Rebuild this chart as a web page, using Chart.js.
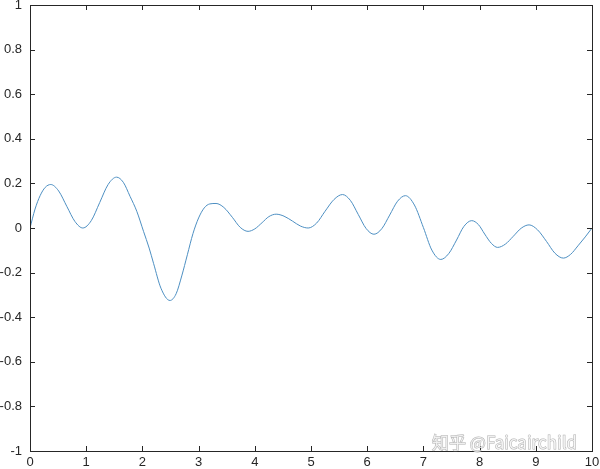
<!DOCTYPE html>
<html>
<head>
<meta charset="utf-8">
<script src="https://cdn.jsdelivr.net/npm/chart.js@4"></script>
<style>
  html, body { margin: 0; padding: 0; background: #fff; }
  #wrap { width: 600px; height: 469px; }
</style>
</head>
<body>
<div id="wrap"><canvas id="grafico"></canvas></div>
<script>
// valores (x, y)
const xs = [0, 0.09, 0.18, 0.27, 0.37,
            0.51, 0.655, 0.80, 0.94,
            1.09, 1.24, 1.39, 1.54,
            1.66, 1.78, 1.90, 2.02, 2.12, 2.20, 2.33, 2.49,
            2.60, 2.70, 2.80, 2.90, 3.00, 3.10, 3.20, 3.31,
            3.45, 3.60, 3.74, 3.88,
            4.00, 4.13, 4.25, 4.38,
            4.52, 4.67, 4.81, 4.95,
            5.10, 5.25, 5.41, 5.56,
            5.70, 5.84, 5.98, 6.12,
            6.26, 6.40, 6.54, 6.68,
            6.84, 7.00, 7.15, 7.31,
            7.45, 7.59, 7.72, 7.86,
            7.98, 8.09, 8.21, 8.32,
            8.46, 8.60, 8.74, 8.88,
            9.03, 9.19, 9.34, 9.49,
            9.62, 9.75, 9.88, 10];
const ys = [0, 0.085, 0.145, 0.182, 0.195,
            0.166, 0.097, 0.029, 0.0,
            0.033, 0.114, 0.195, 0.228,
            0.205, 0.142, 0.075, -0.015, -0.09, -0.16, -0.27, -0.325,
            -0.295, -0.215, -0.12, -0.025, 0.045, 0.09, 0.108, 0.11,
            0.092, 0.048, 0.003, -0.015,
            -0.004, 0.024, 0.051, 0.062,
            0.053, 0.031, 0.009, 0.0,
            0.022, 0.075, 0.128, 0.15,
            0.124, 0.061, -0.002, -0.028,
            -0.003, 0.058, 0.12, 0.145,
            0.103, 0.002, -0.099, -0.141,
            -0.115, -0.054, 0.007, 0.033,
            0.015, -0.027, -0.069, -0.087,
            -0.072, -0.037, -0.001, 0.014,
            -0.008, -0.06, -0.113, -0.135,
            -0.118, -0.08, -0.04, 0];

const xTicks = [0, 1, 2, 3, 4, 5, 6, 7, 8, 9, 10];
const yTicks = [-1, -0.8, -0.6, -0.4, -0.2, 0, 0.2, 0.4, 0.6, 0.8, 1];
const marca = "知乎 @Faicairchild";

const colorEje = "#262626";
const colorLinea = "#4d8fc2";

const puntos = xs.map((x, i) => ({ x: x, y: ys[i] }));

// caja y marcas hacia dentro, estilo matlab
const cajaPlugin = {
  id: "caja",
  afterDraw(chart) {
    const { ctx, chartArea: a, scales } = chart;
    ctx.save();
    ctx.strokeStyle = colorEje;
    ctx.lineWidth = 1;
    ctx.strokeRect(Math.round(a.left) + 0.5, Math.round(a.top) + 0.5,
                   Math.round(a.right - a.left), Math.round(a.bottom - a.top));
    const t = 5;
    ctx.beginPath();
    xTicks.forEach(v => {
      const px = Math.round(scales.x.getPixelForValue(v)) + 0.5;
      ctx.moveTo(px, a.bottom); ctx.lineTo(px, a.bottom - t);
      ctx.moveTo(px, a.top); ctx.lineTo(px, a.top + t);
    });
    yTicks.forEach(v => {
      const py = Math.round(scales.y.getPixelForValue(v)) + 0.5;
      ctx.moveTo(a.left, py); ctx.lineTo(a.left + t, py);
      ctx.moveTo(a.right, py); ctx.lineTo(a.right - t, py);
    });
    ctx.stroke();

    // marca de agua
    ctx.font = "17px 'Noto Sans CJK SC', 'Liberation Sans', sans-serif";
    ctx.textBaseline = "middle";
    ctx.lineWidth = 1;
    ctx.strokeStyle = "rgba(110,110,110,0.55)";
    ctx.fillStyle = "rgba(255,255,255,0.75)";
    ctx.strokeText(marca, 432, 443);
    ctx.fillText(marca, 432, 443);
    ctx.restore();
  }
};

new Chart(document.getElementById("grafico"), {
  type: "scatter",
  data: {
    datasets: [{
      data: puntos,
      showLine: true,
      borderColor: colorLinea,
      borderWidth: 1,
      pointRadius: 0,
      cubicInterpolationMode: "monotone",
      fill: false
    }]
  },
  options: {
    responsive: true,
    maintainAspectRatio: false,
    animation: false,
    layout: { padding: { top: 5, right: 8, left: 0, bottom: 0 } },
    plugins: { legend: { display: false }, tooltip: { enabled: false } },
    scales: {
      x: {
        type: "linear",
        min: 0, max: 10,
        afterBuildTicks: s => { s.ticks = xTicks.map(v => ({ value: v })); },
        afterFit: s => { s.height = 18; s.paddingLeft = 0; s.paddingRight = 0; },
        grid: { display: false, drawTicks: false },
        border: { display: false },
        ticks: {
          color: colorEje,
          padding: 4,
          maxRotation: 0,
          font: { family: "'Liberation Sans', Arial, sans-serif", size: 13 },
          callback: v => String(v)
        }
      },
      y: {
        type: "linear",
        min: -1, max: 1,
        afterBuildTicks: s => { s.ticks = yTicks.map(v => ({ value: v })); },
        afterFit: s => { s.width = 30; s.paddingTop = 0; s.paddingBottom = 0; },
        grid: { display: false, drawTicks: false },
        border: { display: false },
        ticks: {
          color: colorEje,
          padding: 8,
          font: { family: "'Liberation Sans', Arial, sans-serif", size: 13 },
          callback: v => String(Number(v.toFixed(1)))
        }
      }
    }
  },
  plugins: [cajaPlugin]
});
</script>
</body>
</html>
